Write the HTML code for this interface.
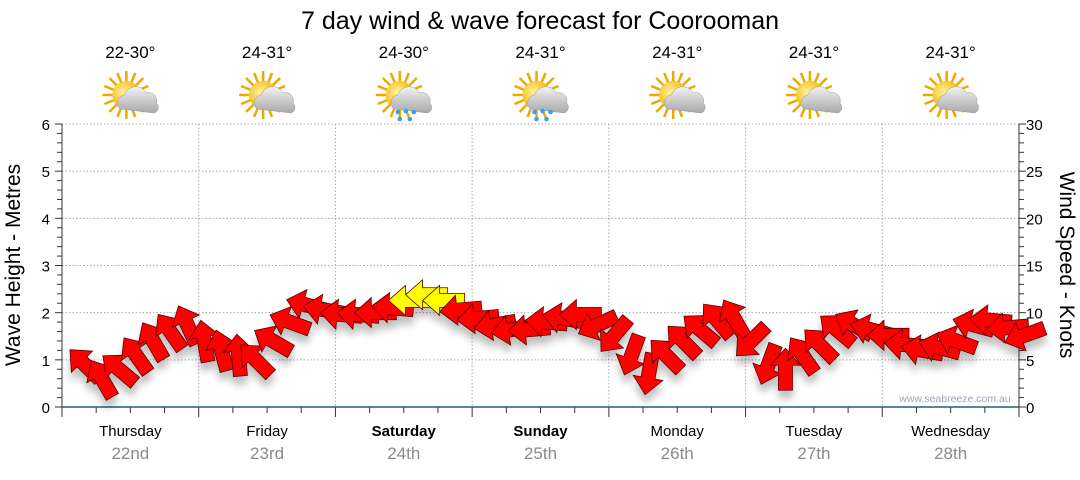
<!DOCTYPE html>
<html><head><meta charset="utf-8"><style>
body{margin:0;background:#fff;}
svg text{font-family:"Liberation Sans",sans-serif;}
</style></head><body>
<svg id="chart" width="1080" height="475" xmlns="http://www.w3.org/2000/svg">
<defs>
<filter id="sh" x="-50%" y="-50%" width="200%" height="250%"><feGaussianBlur in="SourceAlpha" stdDeviation="4"/><feOffset dy="8"/><feComponentTransfer><feFuncA type="linear" slope="0.25"/></feComponentTransfer><feMerge><feMergeNode/><feMergeNode in="SourceGraphic"/></feMerge></filter>
<radialGradient id="sun" cx="0.4" cy="0.4" r="0.6"><stop offset="0" stop-color="#fff3a0"/><stop offset="1" stop-color="#f2b400"/></radialGradient>
<linearGradient id="cloud" x1="0" y1="0" x2="0" y2="1"><stop offset="0" stop-color="#f2f2f2"/><stop offset="1" stop-color="#a8a8a8"/></linearGradient>
<g id="icon">
<g stroke="#f0a800" stroke-width="2.5">
<line x1="-24" y1="0" x2="24" y2="0"/><line x1="0" y1="-24" x2="0" y2="24"/>
<line x1="-17" y1="-17" x2="17" y2="17"/><line x1="-17" y1="17" x2="17" y2="-17"/>
<line x1="-22" y1="-9" x2="22" y2="9"/><line x1="-9" y1="-22" x2="9" y2="22"/>
<line x1="-22" y1="9" x2="22" y2="-9"/><line x1="9" y1="-22" x2="-9" y2="22"/>
</g>
<circle r="14" fill="url(#sun)"/>
<path d="M-6,14 a8,8 0 0 1 4,-14 a12,12 0 0 1 22,-2 a8,8 0 0 1 10,10 a6,6 0 0 1 -2,10 z" fill="url(#cloud)" stroke="#999" stroke-width="0.5"/>
</g>
</defs>
<text x="540" y="29" font-size="25" text-anchor="middle">7 day wind &amp; wave forecast for Coorooman</text>
<g id="days"></g>
<g id="grid"></g>
<g id="axes"></g>
<text x="955" y="402" font-size="10.5" fill="#9aa7b8" text-anchor="middle">www.seabreeze.com.au</text>
<g id="arrows" filter="url(#sh)"></g>
<text transform="translate(20,265) rotate(-90)" font-size="21" text-anchor="middle">Wave Height - Metres</text>
<text transform="translate(1060,265) rotate(90)" font-size="21" text-anchor="middle">Wind Speed - Knots</text>
</svg>
<script>
const dayNames=["Thursday","Friday","Saturday","Sunday","Monday","Tuesday","Wednesday"];
const dayDates=["22nd","23rd","24th","25th","26th","27th","28th"];
const temps=["22-30°","24-31°","24-30°","24-31°","24-31°","24-31°","24-31°"];
const rainy=[false,false,true,true,false,false,false];
const waveTicks=[0,1,2,3,4,5,6];
const windTicks=[0,5,10,15,20,25,30];
// wind every 3 hours from Thursday 00:00
const windSpeed=[4.5,3,4,5.5,7,8,8.7,7, 6,5.5,5,7,9,10.8,10.3,9.8, 9.8,10,10.5,11.3,11.9,11.3,10.3,9.4, 8.7,8.2,8.2,9,9.4,9.8,8.7,7.6, 5.5,3.5,5.5,7,8.2,9.2,9.4,7, 4.5,4,5.5,6.6,8.2,8.7,8.2,7.6, 6.6,6,6.3,7,8.7,9.2,8.4,7.6];
const windDir=[135,120,140,125,120,125,115,100, 105,95,135,150,160,165,170,175, 175,180,175,180,180,180,185,185, 190,190,185,175,170,180,205,230, 250,260,135,135,140,130,120,225, 250,90,125,135,140,150,165,180, 175,170,165,160,165,175,185,200];
const yellowFrom=11;
const X0=62,X1=1019,Y0=407,Y1=124;
const dayW=(X1-X0)/7;
const xT=h=>X0+h/168*(X1-X0);
const yW=m=>Y0-m/6*(Y0-Y1);
const yK=k=>Y0-k/30*(Y0-Y1);
const NS="http://www.w3.org/2000/svg";
function mk(tag,attrs,parent,txt){const e=document.createElementNS(NS,tag);for(const k in attrs)e.setAttribute(k,attrs[k]);if(txt!=null)e.textContent=txt;parent.appendChild(e);return e;}
const days=document.getElementById('days'),grid=document.getElementById('grid'),axes=document.getElementById('axes'),arrows=document.getElementById('arrows');
dayNames.forEach((d,i)=>{
  const cx=X0+dayW*(i+0.5);
  const t=mk('text',{x:cx,y:58,'font-size':17,'text-anchor':'middle'},days,temps[i]);
  
  
  const u=mk('use',{href:'#icon',x:cx-4,y:95},days);
  
  
  if(rainy[i]){for(const [dx,dy] of [[-2,17],[6,16],[14,17],[0,24],[10,24]]){const c=mk('circle',{cx:cx-4+dx,cy:95+dy,r:2.3,fill:'#3aa0e8'},days);}}
  const l=mk('text',{x:cx,y:436,'font-size':15,'text-anchor':'middle','font-weight':(i==2||i==3)?'bold':'normal'},days,d);
  
  
  const dt=mk('text',{x:cx,y:459,'font-size':17,'text-anchor':'middle',fill:'#8a8a8a'},days,dayDates[i]);
  
  
});
waveTicks.forEach(m=>{
  if(m>0){const g=mk('line',{x1:X0,x2:X1,y1:yW(m),y2:yW(m),stroke:'#aaa','stroke-dasharray':'1.5,2'},grid);}
  const t=mk('text',{x:50,y:yW(m)+6,'font-size':15,'text-anchor':'end'},axes,m);
  
  
});
windTicks.forEach(k=>{
  const t=mk('text',{x:1026,y:yK(k)+6,'font-size':15},axes,k);
  
  
});
for(let i=1;i<7;i++){const g=mk('line',{x1:X0+dayW*i,x2:X0+dayW*i,y1:Y1,y2:Y0,stroke:'#aaa','stroke-dasharray':'1.5,2'},grid);}
for(let k=0;k<=30;k++){const y=yK(k);mk('line',{x1:X1,x2:X1+(k%5?5:7),y1:y,y2:y,stroke:'#333'},axes);mk('line',{x1:X0-(k%5?5:7),x2:X0,y1:y,y2:y,stroke:'#333'},axes);}
for(let h=0;h<=168;h+=6){const x=xT(h);mk('line',{x1:x,x2:x,y1:Y0,y2:Y0+(h%24?6:10),stroke:'#333'},axes);}
let a=mk('line',{x1:X0,x2:X0,y1:Y1,y2:Y0,stroke:'#333'},axes);
a=mk('line',{x1:X1,x2:X1,y1:Y1,y2:Y0,stroke:'#333'},axes);
a=mk('line',{x1:X0,x2:X1,y1:Y0,y2:Y0,stroke:'#1d5c8c','stroke-width':1.5},axes);
const shape="M-21,0 L-4,-15 L-4,-7 L21,-7 L21,7 L-4,7 L-4,15 Z";
windSpeed.forEach((k,i)=>{
  const x=xT(i*3+4),y=yK(k);
  const ang=180-windDir[i];
  const p=mk('path',{d:shape,transform:`translate(${x},${y}) rotate(${ang})`,fill:k>=yellowFrom?'#ffff00':'#ff0000',stroke:'#5a0000','stroke-width':0.8},arrows);
  
  
});
</script>
</body></html>
